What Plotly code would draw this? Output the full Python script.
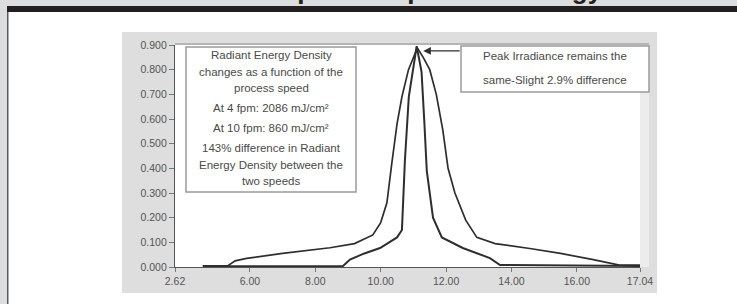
import plotly.graph_objects as go

# ---- data ----
x_4fpm = [4.56, 5.33, 5.55, 5.9, 7.0, 8.45, 9.2, 9.76, 10.0, 10.19, 10.34, 10.5, 10.65, 10.85, 11.12,
          11.3, 11.5, 11.7, 11.9, 12.06, 12.27, 12.6, 12.94, 13.5, 14.56, 15.5, 16.5, 17.16, 17.3, 17.93, 17.93]
y_4fpm = [0.005, 0.005, 0.025, 0.035, 0.055, 0.078, 0.095, 0.13, 0.18, 0.26, 0.42, 0.58, 0.69, 0.80, 0.888,
          0.85, 0.80, 0.70, 0.555, 0.40, 0.30, 0.19, 0.12, 0.095, 0.075, 0.055, 0.03, 0.012, 0.008, 0.008, 0.0]

x_10fpm = [4.56, 8.84, 9.06, 9.5, 9.98, 10.5, 10.65, 10.74, 10.86, 10.98, 11.1, 11.18, 11.25, 11.33,
           11.41, 11.6, 11.87, 12.51, 13.34, 13.65, 17.93, 17.93]
y_10fpm = [0.003, 0.003, 0.03, 0.055, 0.077, 0.12, 0.15, 0.43, 0.69, 0.80, 0.895, 0.84, 0.79, 0.60,
           0.39, 0.20, 0.12, 0.077, 0.036, 0.008, 0.004, 0.0]

y_tick_vals = [0.0, 0.1, 0.2, 0.3, 0.4, 0.5, 0.6, 0.7, 0.8, 0.9]
x_tick_vals = [3.71, 6, 8, 10, 12, 14, 16, 17.93]
x_tick_labels = ["2.62", "6.00", "8.00", "10.00", "12.00", "14.00", "16.00", "17.04"]
x_range = [3.71, 17.93]

left_box_lines = ["Radiant Energy Density", "changes as a function of the", "process speed",
                  "At 4 fpm: 2086 mJ/cm²", "At 10 fpm: 860 mJ/cm²",
                  "143% difference in Radiant", "Energy Density between the", "two speeds"]
right_box_lines = ["Peak Irradiance remains the", "same-Slight 2.9% difference"]
title_text = "Impact of Speed on Energy"

# ---- layout geometry (pixels) ----
W, H = 737, 304
PL, PR, PT, PB = 175, 640, 45, 267


def px(xp):
    return (xp - PL) / (PR - PL)


def py(yp):
    return (PB - yp) / (PB - PT)


fig = go.Figure()
line_col = "#2e2e2e"
fig.add_trace(go.Scatter(x=x_4fpm, y=y_4fpm, mode="lines", line=dict(color=line_col, width=1.7),
                         name="4 fpm", showlegend=False))
fig.add_trace(go.Scatter(x=x_10fpm, y=y_10fpm, mode="lines", line=dict(color=line_col, width=2),
                         name="10 fpm", showlegend=False))

shapes = [
    # top grey strip, left grey margin and left border
    dict(type="rect", xref="paper", yref="paper", x0=px(0), x1=px(W), y0=py(6), y1=py(-2),
         fillcolor="#dcdddf", line_width=0, layer="below"),
    dict(type="rect", xref="paper", yref="paper", x0=px(0), x1=px(7), y0=py(H + 2), y1=py(0),
         fillcolor="#dcdddf", line_width=0, layer="below"),
    dict(type="rect", xref="paper", yref="paper", x0=px(7), x1=px(8.5), y0=py(H + 2), y1=py(6),
         fillcolor="#5a5a5a", line_width=0, layer="below"),
    # grey chart panel + white plot area
    dict(type="rect", xref="paper", yref="paper", x0=px(122), x1=px(657), y0=py(293), y1=py(32),
         fillcolor="#dedede", line_width=0, layer="below"),
    dict(type="rect", xref="paper", yref="paper", x0=px(640), x1=px(649), y0=py(267), y1=py(43),
         fillcolor="#ececec", line_width=0, layer="below"),
    dict(type="rect", xref="paper", yref="paper", x0=px(175), x1=px(640), y0=py(267), y1=py(45),
         fillcolor="#ffffff", line_width=0, layer="below"),
    dict(type="line", xref="paper", yref="paper", x0=px(175), x1=px(649), y0=py(44), y1=py(44),
         line=dict(color="#b5b5b5", width=2), layer="below"),
    # annotation boxes
    dict(type="rect", xref="paper", yref="paper", x0=px(186), x1=px(356), y0=py(192), y1=py(47),
         fillcolor="#ffffff", line=dict(color="#9a9a9a", width=1.5), layer="above"),
    dict(type="rect", xref="paper", yref="paper", x0=px(461), x1=px(649), y0=py(92), y1=py(46),
         fillcolor="#ffffff", line=dict(color="#9a9a9a", width=1.5), layer="above"),
]

box_font = dict(family="Liberation Sans, Arial", size=11.5, color="#4a4a4a")
annotations = []
left_y = [55, 72, 88, 108, 128, 148, 165, 181]
for t, yy in zip(left_box_lines, left_y):
    annotations.append(dict(text=t, xref="paper", yref="paper", x=px(271), y=py(yy),
                            xanchor="center", yanchor="middle", showarrow=False, font=box_font))
right_y = [56, 80]
for t, yy in zip(right_box_lines, right_y):
    annotations.append(dict(text=t, xref="paper", yref="paper", x=px(555), y=py(yy),
                            xanchor="center", yanchor="middle", showarrow=False, font=box_font))
# arrow to peak
annotations.append(dict(text="", x=11.3, y=0.876, xref="x", yref="y", ax=38, ay=0,
                        showarrow=True, arrowhead=2, arrowsize=1.1, arrowwidth=1.4,
                        arrowcolor="#2e2e2e"))
# cropped title at the very top
annotations.append(dict(text="<b>" + title_text + "</b>", xref="paper", yref="paper",
                        x=px(435), y=py(6), xanchor="center", yanchor="bottom", showarrow=False,
                        borderpad=0, font=dict(family="Liberation Sans, Arial", size=26, color="#231f20")))

tick_font = dict(family="Liberation Sans, Arial", size=10.5, color="#555555")
fig.update_layout(
    width=W, height=H,
    margin=dict(l=PL, r=W - PR, t=PT, b=H - PB, pad=0),
    paper_bgcolor="#ffffff", plot_bgcolor="rgba(0,0,0,0)",
    shapes=shapes, annotations=annotations, showlegend=False,
    xaxis=dict(range=x_range, tickvals=x_tick_vals, ticktext=x_tick_labels, showgrid=False,
               zeroline=False, showline=True, linecolor="#555555", linewidth=1.2,
               ticks="outside", ticklen=4, tickcolor="#777777", tickfont=tick_font),
    yaxis=dict(range=[0, 0.9], tickvals=y_tick_vals, tickformat=".3f", showgrid=False,
               zeroline=False, showline=True, linecolor="#555555", linewidth=1.2,
               ticks="outside", ticklen=5, tickcolor="#777777", tickfont=tick_font),
)

# the dark band is drawn last so it sits above the title
fig.add_shape(type="rect", xref="paper", yref="paper", x0=px(7), x1=px(W + 2), y0=py(12), y1=py(6),
              fillcolor="#231f20", line_width=0, layer="above")

fig.write_html("out.html", config={"displayModeBar": False},
               post_script="document.body.style.margin='0';document.body.style.overflow='hidden';")
